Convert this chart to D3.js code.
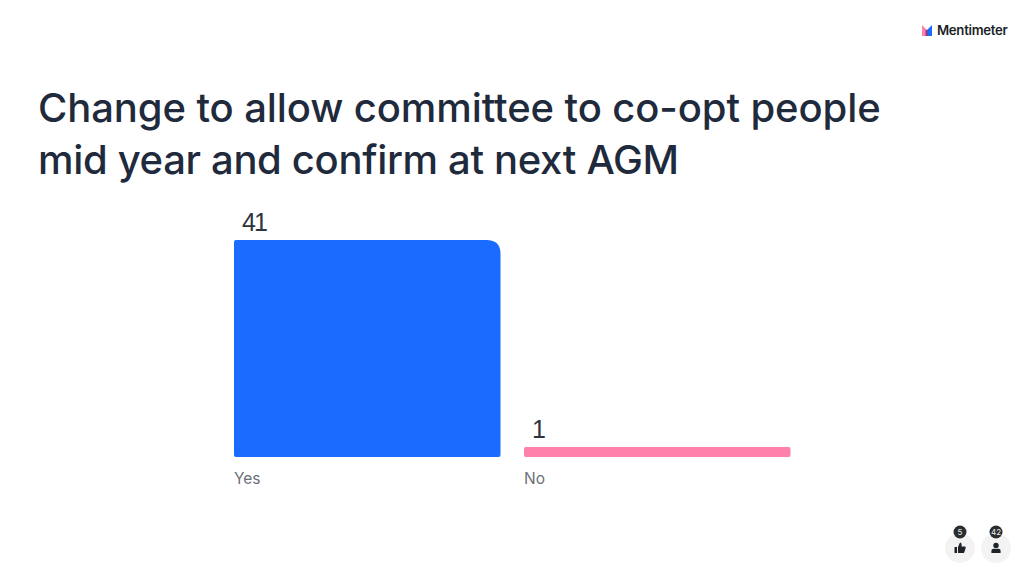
<!DOCTYPE html>
<html><head><meta charset="utf-8">
<script src="https://cdn.jsdelivr.net/npm/d3@7"></script>
<style>html,body{margin:0;padding:0;background:#fff}svg{display:block}</style>
</head><body><div id="c"></div>
<script>
const categories = ["Yes","No"];
const values = [41,1];
const barColors = ["#196cff","#ff80ab"];
const titleLines = ["Change to allow committee to co-opt people","mid year and confirm at next AGM"];
const brand = "Mentimeter";
const reactions = [{k:"like",n:5},{k:"user",n:42}];

(function(){
const W=1024,H=576;
const svg=d3.select("#c").append("svg").attr("width",W).attr("height",H);
const sans='Inter, "Noto Sans", sans-serif';

svg.selectAll("text.title").data(titleLines).join("text").attr("class","title")
 .attr("x",38).attr("y",(d,i)=>122+i*52)
 .attr("font-family",sans).attr("font-size",40).attr("font-weight",500)
 .attr("letter-spacing",(d,i)=>i?-0.33:-0.1)
 .attr("fill","#1f2a3c").text(d=>d);

const x=d3.scaleBand().domain(categories).range([234,790.5]).paddingInner(0.081);
const y=d3.scaleLinear().domain([0,41]).range([457,240]);
const minH=10;
const barTop=d=>Math.min(y(d),457-minH);
const r=(d)=>{
  const b=x.bandwidth(), h=457-barTop(d);
  const R=d===d3.max(values)?14:2, s=2;
  return `M0,${h-s}V${s}Q0,0 ${s},0H${b-R}Q${b},0 ${b},${R}V${h-s}Q${b},${h} ${b-s},${h}H${s}Q0,${h} 0,${h-s}Z`;
};
const g=svg.selectAll("g.bar").data(categories).join("g").attr("class","bar")
 .attr("transform",c=>`translate(${x(c)},0)`);
g.append("path").attr("transform",(c,i)=>`translate(0,${barTop(values[i])})`)
 .attr("d",(c,i)=>r(values[i])).attr("fill",(c,i)=>barColors[i]);
g.append("text").attr("x",8).attr("y",(c,i)=>barTop(values[i])-9.5)
 .attr("font-family",'"Liberation Sans", Arial, sans-serif').attr("font-size",25)
 .attr("letter-spacing",-2)
 .attr("fill","#2b3440").text((c,i)=>values[i]);
g.append("text").attr("x",0).attr("y",484)
 .attr("font-family",sans).attr("font-size",15.5).attr("fill","#6b7078").text(c=>c);

const logo=svg.append("g").attr("transform","translate(922,25)");
logo.append("path").attr("d","M0,0L5,5V11H0Z").attr("fill","#ff80ab");
logo.append("path").attr("d","M5,5L10,0V11H5Z").attr("fill","#196cff");
logo.append("rect").attr("x",3.5).attr("y",5).attr("width",2.5).attr("height",6).attr("fill","#7a3fa0");
svg.append("text").attr("x",937).attr("y",35).attr("font-family",sans).attr("font-size",13.2)
 .attr("font-weight",600).attr("letter-spacing",-0.3).attr("fill","#1a1f28").text(brand);

const cx=d3.scalePoint().domain(reactions.map(d=>d.k)).range([960,996]);
const rg=svg.selectAll("g.re").data(reactions).join("g").attr("class","re")
 .attr("transform",d=>`translate(${cx(d.k)},548)`);
rg.append("circle").attr("r",15).attr("fill","#f3f3f4");
rg.append("circle").attr("cy",-16).attr("r",6.5).attr("fill","#2a2c30");
rg.append("text").attr("y",-13).attr("text-anchor","middle").attr("font-family",sans)
 .attr("font-size",8).attr("fill","#eee").text(d=>d.n);
rg.filter(d=>d.k==="like").append("path")
 .attr("d","M-5.5,-1H-3V5H-5.5ZM-2,-1L0,-5.5Q1.6,-5.5 1.6,-3.5V-1.5H5.2Q6,-1 5.6,0.2L4.2,4.5Q4,5 3,5H-2Z").attr("fill","#1f2227");
rg.filter(d=>d.k==="user").append("g").call(s=>{
 s.append("circle").attr("cy",-2.6).attr("r",2.7).attr("fill","#1f2227");
 s.append("path").attr("d","M-4.6,5V2.8Q-4.6,0.8 -2.5,0.8H2.5Q4.6,0.8 4.6,2.8V5Z").attr("fill","#1f2227");
});
})();
</script></body></html>
